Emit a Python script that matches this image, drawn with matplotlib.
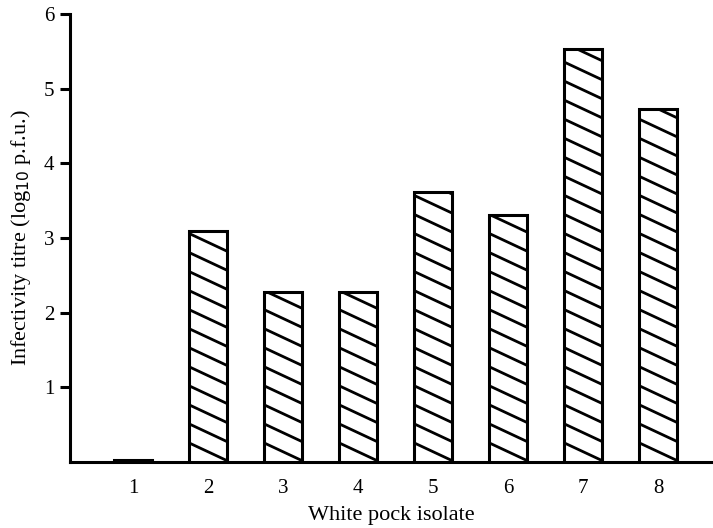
import matplotlib
matplotlib.use("Agg")
import matplotlib.pyplot as plt
import numpy as np

isolates = ["1", "2", "3", "4", "5", "6", "7", "8"]
titres = [0.03, 3.09, 2.28, 2.28, 3.61, 3.31, 5.53, 4.73]
yticks = [1, 2, 3, 4, 5, 6]

plt.rcParams['font.family'] = ['Liberation Serif', 'DejaVu Serif']

fig = plt.figure(figsize=(7.13, 5.28), dpi=100)
ax = fig.add_axes([0.098, 0.125, 0.902, 0.8485])

x = np.arange(1, len(isolates) + 1)
bars = ax.bar(x, titres, width=0.5, facecolor='white', edgecolor='black',
              linewidth=2.2, zorder=3)

# custom hatch lines (descending, shallow slope) clipped to each bar
spacing = 0.255
slope = -0.47
for rect in bars:
    x0 = rect.get_x()
    w = rect.get_width()
    h = rect.get_height()
    offsets = np.arange(0.0, h + 0.5, spacing)
    for off in offsets:
        xs = np.array([x0 - 0.1, x0 + w + 0.1])
        ys = off + slope * (xs - x0)
        ln, = ax.plot(xs, ys, color='black', linewidth=2.0, zorder=3.5,
                      solid_capstyle='butt')
        ln.set_clip_path(rect)

ax.set_xlim(0.16, 8.73)
ax.set_ylim(0, 6)
ax.set_xticks(x)
ax.set_xticklabels(isolates)
ax.set_yticks(yticks)
ax.tick_params(axis='x', length=0, pad=12, labelsize=15)
ax.tick_params(axis='y', length=7, width=2.2, direction='out', labelsize=15, pad=4)

for s in ['top', 'right']:
    ax.spines[s].set_visible(False)
for s in ['left', 'bottom']:
    ax.spines[s].set_linewidth(2.2)

ax.set_xlabel("White pock isolate", fontsize=16, labelpad=6)
ax.set_ylabel("Infectivity titre (log$_{10}$ p.f.u.)", fontsize=16, labelpad=8)

fig.savefig("out.png", dpi=100)
